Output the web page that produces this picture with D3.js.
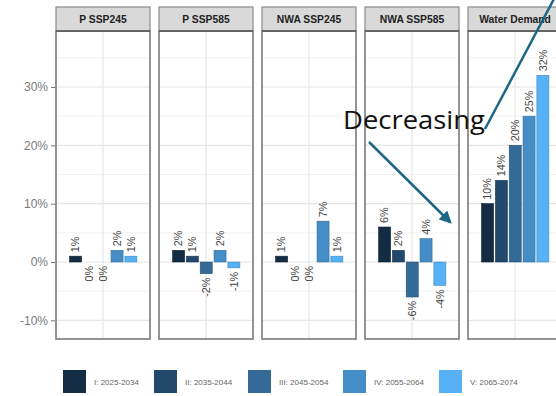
<!DOCTYPE html>
<html>
<head>
<meta charset="utf-8">
<script src="https://cdn.jsdelivr.net/npm/d3@7"></script>
<style>
  html, body { margin: 0; padding: 0; background: #fff; }
  svg { display: block; }
</style>
</head>
<body>
<svg id="chart" width="556" height="396"></svg>
<script>
// Facet panels, periods and percentage change per period
const facets = ["P SSP245", "P SSP585", "NWA SSP245", "NWA SSP585", "Water Demand"];
const periods = ["I: 2025-2034", "II: 2035-2044", "III: 2045-2054", "IV: 2055-2064", "V: 2065-2074"];
const pSsp245 = [1, 0, 0, 2, 1];
const pSsp585 = [2, 1, -2, 2, -1];
const nwaSsp245 = [1, 0, 0, 7, 1];
const nwaSsp585 = [6, 2, -6, 4, -4];
const waterDemand = [10, 14, 20, 25, 32];
const yTicks = [-10, 0, 10, 20, 30];
const yMinor = [-5, 5, 15, 25, 35];

const seriesByFacet = [pSsp245, pSsp585, nwaSsp245, nwaSsp585, waterDemand];
const rows = [];
facets.forEach((f, i) => periods.forEach((p, j) => rows.push({facet: f, period: p, value: seriesByFacet[i][j]})));

const svg = d3.select("#chart");

const panelTop = 31, panelBottom = 339, stripTop = 7;

// facet positions
const fx = d3.scaleBand().domain(facets).range([56, 562]).paddingInner(9 / 103);
const bw = fx.bandwidth();

// period positions inside each panel
const px = d3.scaleBand().domain(periods).range([bw * 0.135, bw * 0.87]);

const y = d3.scaleLinear().domain([-13.2, 39.6]).range([panelBottom, panelTop]);

const colorScale = d3.scaleOrdinal()
  .domain(periods)
  .range(periods.map((_, i) => d3.interpolateLab("#132B43", "#56B1F7")(i / (periods.length - 1))));

const panels = svg.selectAll("g.panel").data(facets).join("g")
  .attr("class", "panel")
  .attr("transform", d => `translate(${fx(d)},0)`);

// grid
panels.each(function() {
  const g = d3.select(this);
  g.append("rect").attr("x", 0).attr("y", panelTop).attr("width", bw).attr("height", panelBottom - panelTop).attr("fill", "#fff");
  g.selectAll("line.minor").data(yMinor).join("line")
    .attr("x1", 0).attr("x2", bw).attr("y1", d => y(d)).attr("y2", d => y(d))
    .attr("stroke", "#f2f2f2").attr("stroke-width", 1);
  g.selectAll("line.major").data(yTicks).join("line")
    .attr("x1", 0).attr("x2", bw).attr("y1", d => y(d)).attr("y2", d => y(d))
    .attr("stroke", "#e6e6e6").attr("stroke-width", 1.2);
  g.append("line").attr("x1", bw / 2).attr("x2", bw / 2).attr("y1", panelTop).attr("y2", panelBottom)
    .attr("stroke", "#e6e6e6").attr("stroke-width", 1.2);
});

// bars and value labels
panels.each(function(f) {
  const g = d3.select(this);
  const data = rows.filter(r => r.facet === f);
  g.selectAll("rect.bar").data(data).join("rect")
    .attr("class", "bar")
    .attr("x", d => px(d.period) + 0.9)
    .attr("width", px.bandwidth() - 1.8)
    .attr("y", d => y(Math.max(0, d.value)))
    .attr("height", d => Math.abs(y(d.value) - y(0)))
    .attr("fill", d => colorScale(d.period))
    .attr("stroke", d => d3.color(colorScale(d.period)).darker(0.7))
    .attr("stroke-width", 0.6);

  g.selectAll("text.lab").data(data).join("text")
    .attr("class", "lab")
    .attr("transform", d => {
      const cx = px(d.period) + px.bandwidth() / 2 + 3.9;
      const cy = d.value > 0 ? y(d.value) - 4 : y(Math.min(0, d.value)) + 4;
      return `translate(${cx},${cy}) rotate(-90)`;
    })
    .attr("text-anchor", d => d.value > 0 ? "start" : "end")
    .attr("font-family", "Liberation Sans, Arial, sans-serif")
    .attr("font-size", 10.8)
    .attr("fill", "#444")
    .text(d => d.value + "%");
});

// panel borders and strips
panels.each(function(f) {
  const g = d3.select(this);
  g.append("rect").attr("x", 0).attr("y", panelTop).attr("width", bw).attr("height", panelBottom - panelTop)
    .attr("fill", "none").attr("stroke", "#7a7a7a").attr("stroke-width", 1.6);
  g.append("rect").attr("x", 0).attr("y", stripTop).attr("width", bw).attr("height", panelTop - stripTop)
    .attr("fill", "#d9d9d9").attr("stroke", "#8a8a8a").attr("stroke-width", 1.2);
  g.append("line").attr("x1", 0).attr("x2", bw).attr("y1", panelTop).attr("y2", panelTop)
    .attr("stroke", "#555").attr("stroke-width", 1.6);
  g.append("text").attr("x", bw / 2).attr("y", (stripTop + panelTop) / 2 + 3.7)
    .attr("text-anchor", "middle")
    .attr("font-family", "Liberation Sans, Arial, sans-serif")
    .attr("font-weight", "bold").attr("font-size", 10.3).attr("fill", "#222")
    .text(f);
});

// y axis
const yAxis = d3.axisLeft(y).tickValues(yTicks).tickFormat(d => d + "%").tickSize(4).tickPadding(3);
const ya = svg.append("g").attr("transform", `translate(${fx(facets[0]) - 1},0)`).call(yAxis);
ya.select(".domain").remove();
ya.selectAll(".tick line").attr("stroke", "#777");
ya.selectAll(".tick text").attr("fill", "#7a7a7a").attr("font-size", 12)
  .attr("font-family", "Liberation Sans, Arial, sans-serif");

// legend
const legendX = [63, 154, 248, 343, 439];
const lg = svg.append("g");
periods.forEach((p, i) => {
  lg.append("rect").attr("x", legendX[i]).attr("y", 370).attr("width", 23).attr("height", 23)
    .attr("fill", colorScale(p));
  lg.append("text").attr("x", legendX[i] + 31).attr("y", 384.5)
    .attr("font-family", "Liberation Sans, Arial, sans-serif")
    .attr("font-size", 8).attr("fill", "#666")
    .text(p);
});

// annotation
const ann = svg.append("g");
const arrowColor = "#1d6684";
svg.append("defs").append("marker")
  .attr("id", "head").attr("viewBox", "0 0 10 10").attr("refX", 8).attr("refY", 5)
  .attr("markerWidth", 5).attr("markerHeight", 5).attr("orient", "auto")
  .append("path").attr("d", "M0,0 L10,5 L0,10 Z").attr("fill", arrowColor);

ann.append("line").attr("x1", 485).attr("y1", 129).attr("x2", 564).attr("y2", -20)
  .attr("stroke", arrowColor).attr("stroke-width", 2.5);
ann.append("line").attr("x1", 369).attr("y1", 142).attr("x2", 450).attr("y2", 222)
  .attr("stroke", arrowColor).attr("stroke-width", 2.5).attr("marker-end", "url(#head)");
ann.append("text").attr("x", 343).attr("y", 129)
  .attr("font-family", "Open Sans, Liberation Sans, sans-serif")
  .attr("font-size", 25).attr("fill", "#111")
  .attr("textLength", 142).attr("lengthAdjust", "spacingAndGlyphs")
  .text("Decreasing");
</script>
</body>
</html>
